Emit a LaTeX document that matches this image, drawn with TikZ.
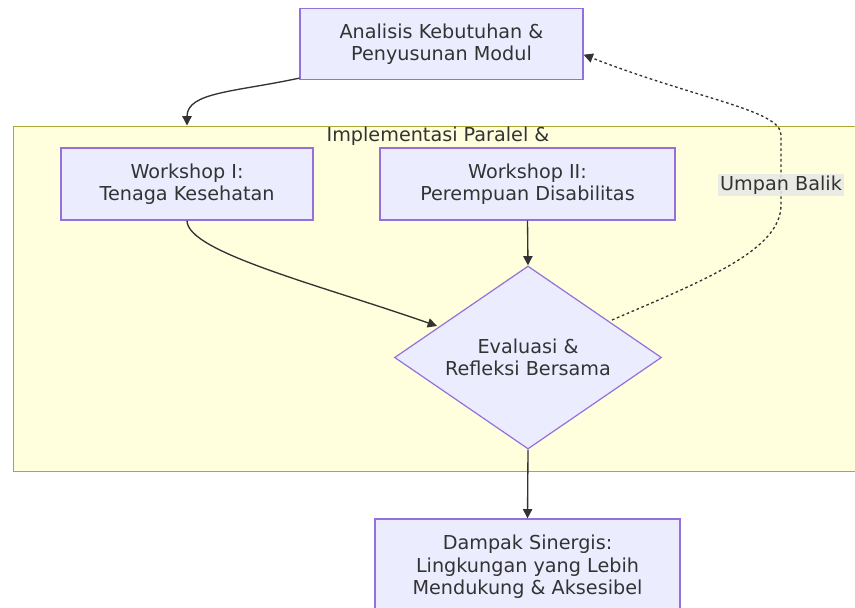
\documentclass[tikz,border=0pt]{standalone}
\usepackage{fontspec}
\setmainfont{DejaVu Sans}
\usetikzlibrary{arrows.meta,shapes.geometric}
\definecolor{nodefill}{HTML}{ECECFF}
\definecolor{nodeline}{HTML}{9370DB}
\definecolor{grpfill}{HTML}{FFFFDE}
\definecolor{grpline}{HTML}{AAAA33}
\definecolor{edgecol}{HTML}{333333}
\definecolor{lblfill}{HTML}{E8E8E8}
\tikzset{
  box/.style={draw=nodeline, fill=nodefill, line width=0.9pt, align=center, inner sep=0pt},
  edge/.style={draw=edgecol, line width=1pt, -{Triangle[length=7pt,width=7pt]}},
  txt/.style={font=\fontsize{14.4}{16.8}\selectfont, text=edgecol}
}
\begin{document}
\begin{tikzpicture}[x=0.75pt, y=-0.75pt, txt]
   \useasboundingbox (0,0) rectangle (855,607);
   \clip (0,0) rectangle (855,607);
   \fill[white] (0,0) rectangle (855,607);
   % group
   \node[draw=grpline, fill=grpfill, line width=0.75pt, minimum width=635.25pt, minimum height=258.75pt, inner sep=0pt] (impl) at (436.5,298.5) {};
   \node (impltitle) at (438,136) {Implementasi Paralel \&};
   % steps
   \node[box, minimum width=212.25pt, minimum height=53.25pt] (analisis) at (441.5,44) {Analisis Kebutuhan \&\\Penyusunan Modul};
   \node[box, minimum width=189pt, minimum height=54pt] (ws1) at (187,184) {Workshop I:\\Tenaga Kesehatan};
   \node[box, minimum width=221.25pt, minimum height=54pt] (ws2) at (527.5,184) {Workshop II:\\Perempuan Disabilitas};
   \node[box, diamond, aspect=1.46, minimum width=200.25pt, minimum height=137.25pt] (eval) at (528,357.5) {Evaluasi \&\\Refleksi Bersama};
   \node[box, minimum width=228.75pt, minimum height=72pt] (dampak) at (527.5,567) {Dampak Sinergis:\\Lingkungan yang Lebih\\Mendukung \& Aksesibel};
   % edges
   \draw[edge] ([yshift=1.5pt]analisis.south west) .. controls (235,92) and (187,92) .. (impl.north -| ws1.south);
   \draw[edge] (ws1.south) .. controls (187,252) and (320,285) .. (437,326);
   \draw[edge] (ws2.south) -- (eval.north);
   \draw[edge] (eval.south) -- (dampak.north);
   \draw[edge, dash pattern=on 2pt off 2pt] (612,320) .. controls (705,280) and (781,250) .. (781,205)
      -- (781,135) .. controls (781,110) and (700,100) .. ([yshift=-8pt]analisis.east);
   \node[fill=lblfill, fill opacity=0.85, text opacity=1, inner sep=1.5pt] (umpan) at (781,185) {Umpan Balik};
\end{tikzpicture}
\end{document}
